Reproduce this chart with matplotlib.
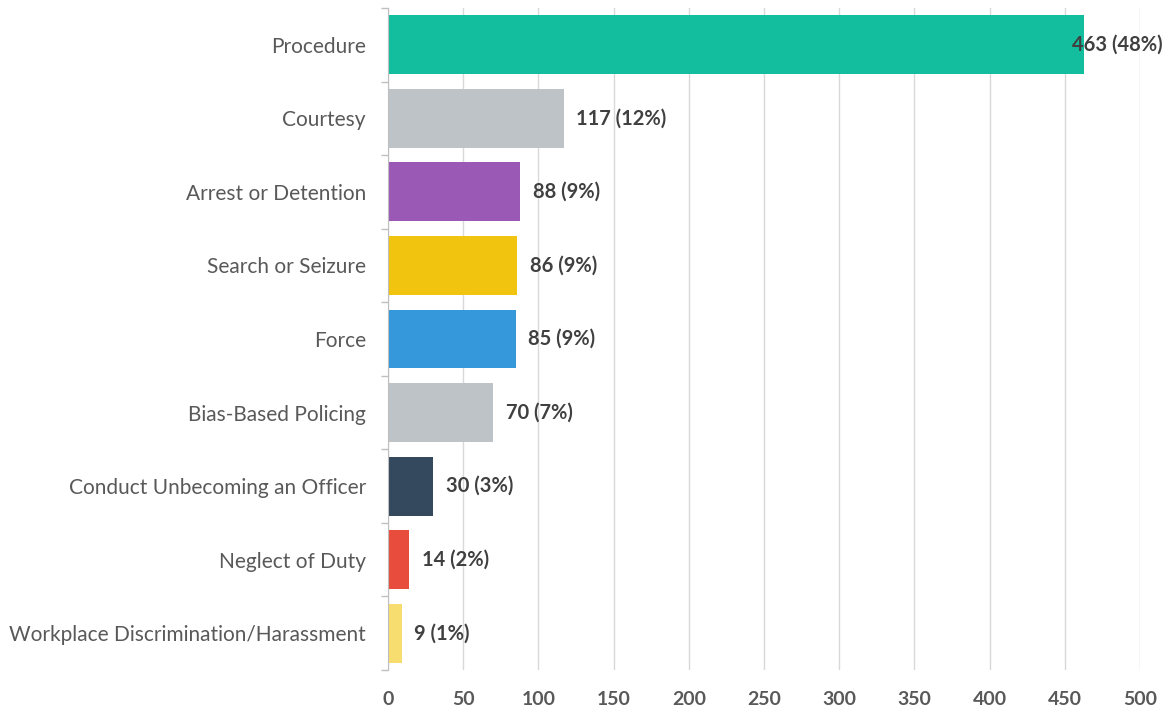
import matplotlib.pyplot as plt
import numpy as np

categories = ['Procedure', 'Courtesy', 'Arrest or Detention', 'Search or Seizure', 'Force',
              'Bias-Based Policing', 'Conduct Unbecoming an Officer', 'Neglect of Duty',
              'Workplace Discrimination/Harassment']
counts = [463, 117, 88, 86, 85, 70, 30, 14, 9]
pcts = [48, 12, 9, 9, 9, 7, 3, 2, 1]
colors = ['#13BE9F', '#BDC3C7', '#9B59B6', '#F1C40F', '#3498DB',
          '#BDC3C7', '#34495E', '#E74C3C', '#F7DC6F']
xticks = [0, 50, 100, 150, 200, 250, 300, 350, 400, 450, 500]

plt.rcParams['font.family'] = ['Lato', 'DejaVu Sans']

fig = plt.figure(figsize=(11.72, 7.15), dpi=100)
ax = fig.add_axes([388 / 1172, 1 - 670 / 715, (1140 - 388) / 1172, (670 - 8) / 715])

y = np.arange(len(categories))
ax.barh(y, counts, height=0.8, color=colors, zorder=3)
ax.set_ylim(len(categories) - 0.5, -0.5)
ax.set_xlim(0, 500)

for i, (c, p) in enumerate(zip(counts, pcts)):
    txt = f'{c} ({p}%)'
    off = -9 if i == 0 else 9
    ax.annotate(txt, (c, i), xytext=(off, 0), textcoords='offset points',
                ha='left', va='center', fontsize=14.5, fontweight='bold',
                color='#404040', zorder=4, annotation_clip=False)

ax.set_yticks(y)
ax.set_yticklabels(categories, fontsize=15, color='#595959')
ax.set_yticks(np.arange(-0.5, len(categories) + 0.5, 1), minor=True)
ax.tick_params(axis='y', which='major', length=0, pad=16)
ax.tick_params(axis='y', which='minor', length=5, color='#BFBFBF', width=1)

ax.set_xticks(xticks)
ax.set_xticklabels([str(t) for t in xticks], fontsize=14, fontweight='bold', color='#595959')
ax.tick_params(axis='x', length=0, pad=15)
ax.grid(axis='x', color='#D9D9D9', linewidth=1, zorder=0)

for s in ['top', 'right', 'bottom']:
    ax.spines[s].set_visible(False)
ax.spines['left'].set_color('#BFBFBF')
ax.spines['left'].set_zorder(5)

fig.savefig('out.png', dpi=100)
